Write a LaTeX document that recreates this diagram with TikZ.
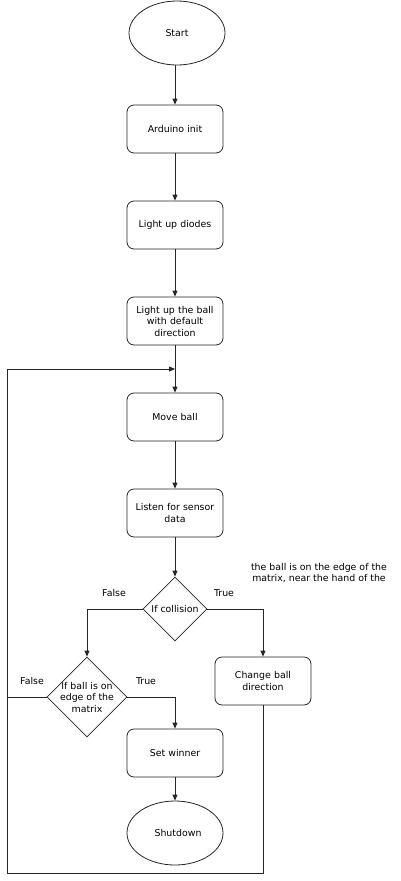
\documentclass[tikz,border=0pt]{standalone}
\usepackage{fontspec}
\setmainfont{DejaVu Sans}
\usetikzlibrary{shapes.geometric,arrows.meta}
\begin{document}
\begin{tikzpicture}[x=1pt,y=-1pt,
  font=\fontsize{9.4}{11.5}\selectfont,
  base/.style={draw=black!85, line width=0.8pt, align=center, inner sep=1pt},
  procbox/.style={base, rectangle, rounded corners=7pt, minimum width=96pt, minimum height=48pt, text width=88pt},
  term/.style={base, ellipse, minimum width=96pt, minimum height=64pt},
  decision/.style={base, diamond, aspect=1, inner sep=0pt},
  flow/.style={draw=black!85, line width=0.8pt, -{Triangle[length=6pt,width=5pt]}},
  link/.style={draw=black!85, line width=0.8pt},
  lbl/.style={font=\fontsize{9.4}{11.5}\selectfont}
]
\useasboundingbox (0,0) rectangle (400,881);

% main column
\node[term] (start) at (177,33) {Start};
\node[procbox] (init) at (175,129) {Arduino init};
\node[procbox] (diodes) at (175,225) {Light up diodes};
\node[procbox] (ball) at (175,321) {Light up the ball\\with default\\direction};
\node[procbox] (move) at (175,417) {Move ball};
\node[procbox] (listen) at (175,513) {Listen for sensor\\data};
\node[decision, minimum width=64pt, minimum height=64pt] (coll) at (175,609) {If collision};
\node[decision, inner sep=-6.5pt, minimum width=80pt, minimum height=80pt] (edge) at (87,697) {If ball is on\\edge of the\\matrix};
\node[procbox] (change) at (263,681) {Change ball\\direction};
\node[procbox] (winner) at (175,753) {Set winner};
\node[term, minimum width=96pt] (shut) at (175,833) {\hspace*{6pt}Shutdown};

% note
\node[lbl, align=center] (note) at (319,573) {the ball is on the edge of the\\matrix, near the hand of the};

% branch labels
\node[lbl] (f1) at (114,593) {False};
\node[lbl] (t1) at (224,593) {True};
\node[lbl] (f2) at (32,681) {False};
\node[lbl] (t2) at (146,681) {True};

% loop corners
\coordinate (lt) at (7,369);
\coordinate (lb) at (7,873);
\coordinate (join) at (175,369);

% straight flow
\draw[flow] (init.north |- start.south) -- (init);
\draw[flow] (init) -- (diodes);
\draw[flow] (diodes) -- (ball);
\draw[flow] (ball) -- (move);
\draw[flow] (move) -- (listen);
\draw[flow] (listen) -- (coll);

% branches
\draw[flow] (coll.west) -| (edge.north);
\draw[flow] (coll.east) -| (change.north);
\draw[flow] (edge.east) -| (winner.north);
\draw[flow] (winner) -- (shut);

% return loop
\draw[link] (edge.west) -| (lt);
\draw[link] (change.south) |- (lb) -- (lt);
\draw[flow] (lt) -- (join);
\end{tikzpicture}
\end{document}
